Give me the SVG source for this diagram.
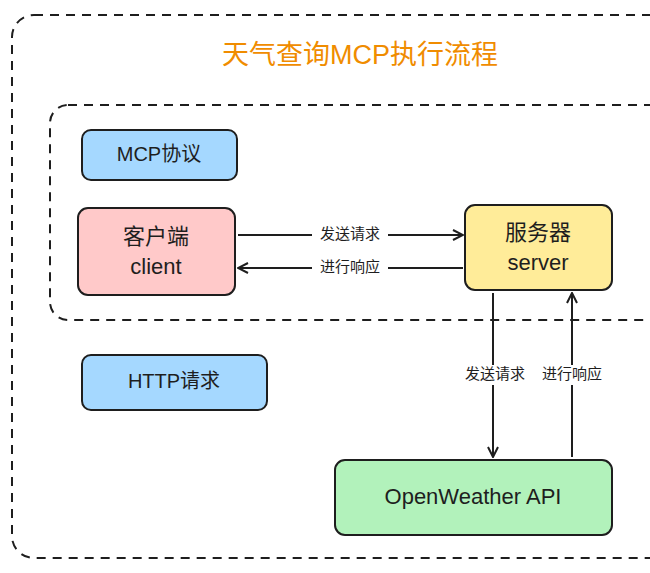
<svg xmlns="http://www.w3.org/2000/svg" width="650" height="573" viewBox="0 0 650 573">
<defs>
<style>
.dash{fill:none;stroke:#1e1e1e;stroke-width:2;stroke-dasharray:9 7}
.box{stroke:#1e1e1e;stroke-width:2}
.t{font-family:"Liberation Sans","Noto Sans CJK SC",sans-serif;fill:#1e1e1e;text-anchor:middle;dominant-baseline:middle}
.lbl{font-size:15px}
.ln{stroke:#1e1e1e;stroke-width:2;fill:none;marker-end:url(#ah)}
</style>
<marker id="ah" viewBox="0 0 12 12" refX="11" refY="6" markerWidth="12" markerHeight="12" markerUnits="userSpaceOnUse" orient="auto">
<path d="M1 1 L11 6 L1 11" fill="none" stroke="#1e1e1e" stroke-width="2"/>
</marker>
</defs>
<rect width="650" height="573" fill="#fff"/>
<rect class="dash" x="12" y="15" width="670" height="543" rx="22"/>
<rect class="dash" x="50" y="105" width="630" height="215" rx="18"/>
<text class="t" x="360" y="57" style="font-size:27px;fill:#f08c00">天气查询MCP执行流程</text>
<g id="mcp"><rect class="box" x="82" y="130" width="155" height="50" rx="9" fill="#a5d8ff"/><text class="t" x="159" y="156" style="font-size:20px">MCP协议</text></g>
<g id="client"><rect class="box" x="78" y="208" width="157" height="87" rx="10" fill="#ffc9c9"/><text class="t" x="156" y="238" style="font-size:22px">客户端</text><text class="t" x="156" y="268" style="font-size:22px">client</text></g>
<g id="server"><rect class="box" x="465" y="205" width="147" height="85" rx="10" fill="#ffec99"/><text class="t" x="538" y="234" style="font-size:22px">服务器</text><text class="t" x="538" y="264" style="font-size:22px">server</text></g>
<g id="http"><rect class="box" x="82" y="355" width="185" height="55" rx="9" fill="#a5d8ff"/><text class="t" x="174" y="383" style="font-size:20px">HTTP请求</text></g>
<g id="api"><rect class="box" x="335" y="460" width="277" height="75" rx="10" fill="#b2f2bb"/><text class="t" x="473" y="498" style="font-size:22px">OpenWeather API</text></g>
<g id="connectors">
<line class="ln" x1="238" y1="235" x2="463" y2="235"/>
<line class="ln" x1="463" y1="268" x2="238" y2="268"/>
<line class="ln" x1="493" y1="293" x2="493" y2="457"/>
<line class="ln" x1="572" y1="457" x2="572" y2="293"/>
<rect x="312" y="225" width="76" height="20" fill="#fff"/>
<text class="t lbl" x="350" y="235">发送请求</text>
<rect x="312" y="258" width="76" height="20" fill="#fff"/>
<text class="t lbl" x="350" y="268">进行响应</text>
<rect x="458" y="365" width="150" height="20" fill="#fff"/>
<text class="t lbl" x="495" y="375">发送请求</text>
<text class="t lbl" x="572" y="375">进行响应</text>
</g>
</svg>
